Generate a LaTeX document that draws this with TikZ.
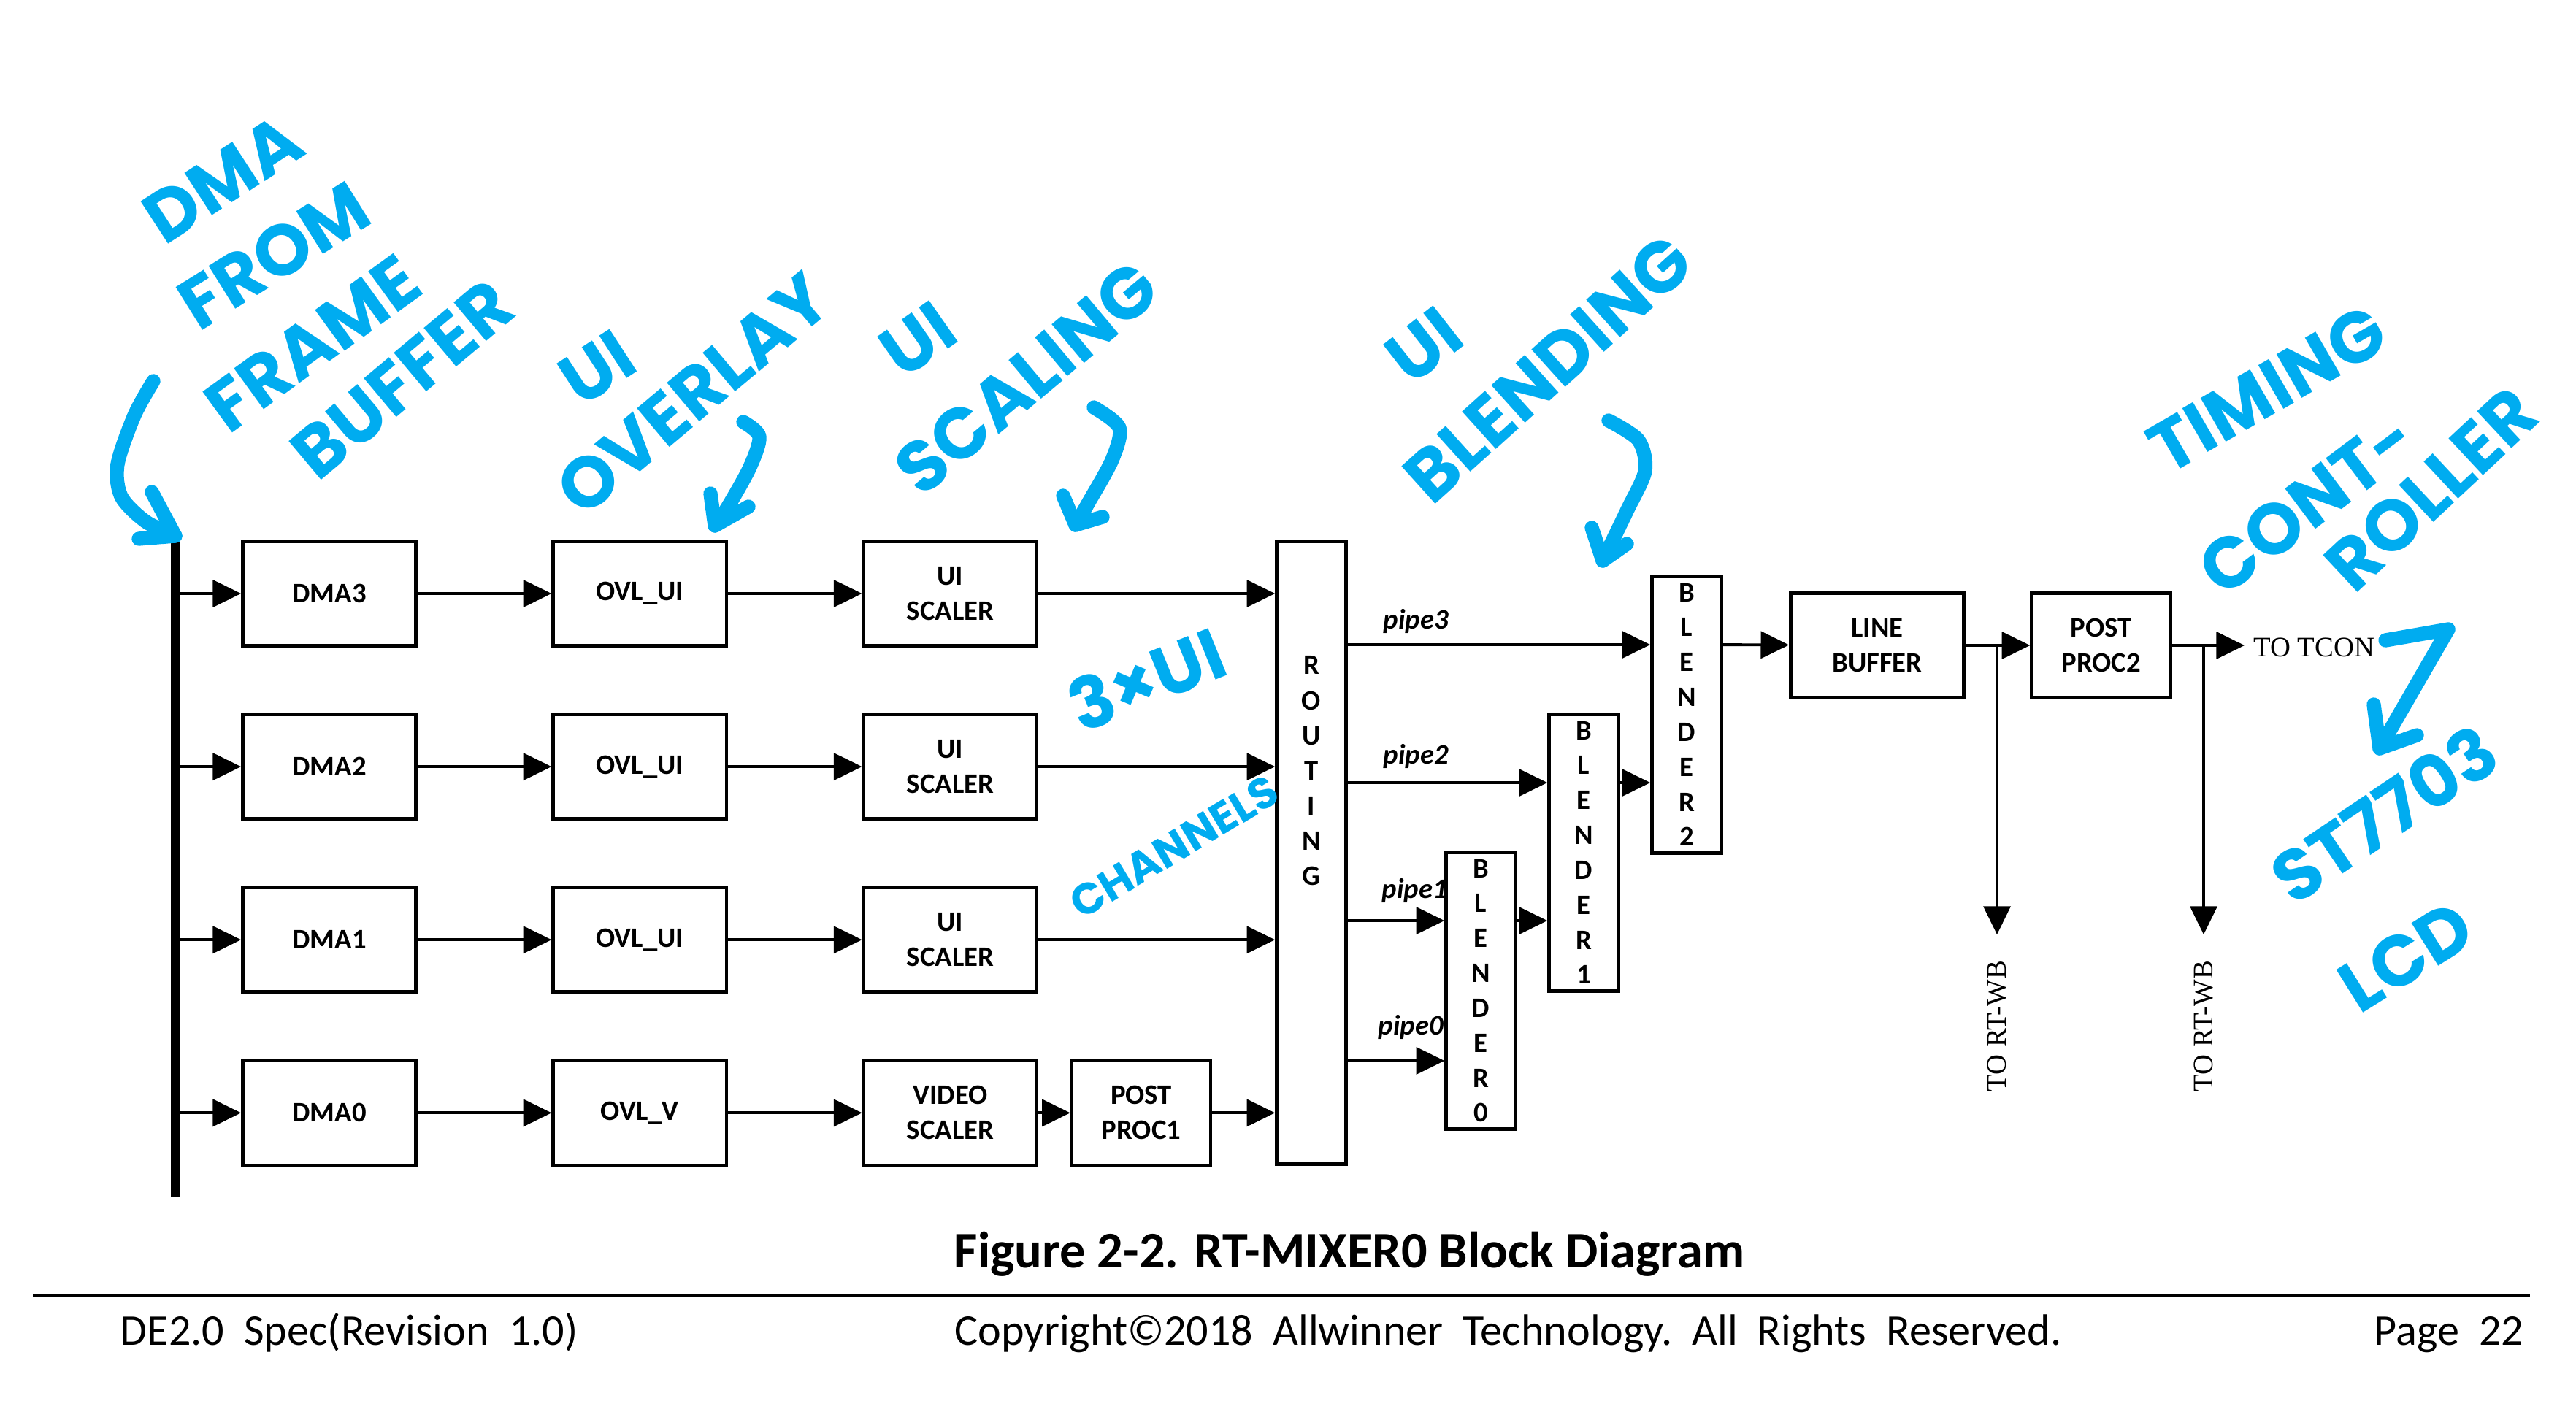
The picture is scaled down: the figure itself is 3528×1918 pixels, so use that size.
\documentclass[tikz,border=0pt]{standalone}
\usepackage{fontspec}
\setmainfont{Carlito}
\newfontfamily\handfont{Poppins}
\newfontfamily\serifont{Liberation Serif}
\usepackage{tikz}
\usetikzlibrary{arrows.meta, positioning, calc}
\definecolor{penblue}{RGB}{0, 172, 240}

\begin{document}
\begin{tikzpicture}[x=0.01cm, y=-0.01cm, node distance=0.894cm and 1.834cm]
    % Styles
    \tikzstyle{block} = [rectangle, draw, line width=1.3pt, minimum width=2.37cm,
        minimum height=1.43cm, align=center, inner sep=0pt,
        font=\fontsize{11}{13.7}\selectfont\bfseries]
    \tikzstyle{smallblock} = [block, minimum width=1.9cm]
    \tikzstyle{tallblock} = [rectangle, draw, line width=1.3pt, minimum width=0.95cm,
        minimum height=3.79cm, align=center, inner sep=0pt,
        font=\fontsize{11}{13.6}\selectfont\bfseries]
    \tikzstyle{vtext} = [align=center, inner sep=0pt, font=\fontsize{11}{13.7}\selectfont\bfseries]
    \tikzstyle{arrow} = [line width=1.1pt, -{Triangle[length=11pt, width=10.5pt]}]
    \tikzstyle{pipelabel} = [inner sep=0pt, font=\fontsize{11}{13}\selectfont\bfseries\itshape]
    \tikzstyle{outlabel} = [font=\serifont\fontsize{11}{13}\selectfont]
    \tikzstyle{footer} = [inner sep=0pt, font=\fontsize{17.1}{20}\selectfont]
    \tikzstyle{handtext} = [penblue, inner sep=0pt, font=\handfont\bfseries\fontsize{28}{30}\selectfont]
    \tikzstyle{penline} = [penblue, line width=5.5pt, line cap=round, line join=round]

    \fill[white] (0,0) rectangle (3528,1918);
    \useasboundingbox (0,0) rectangle (3528,1918);

    % Input rows
    \node[block] (dma3) at (451,813) {DMA3};
    \node[block, below=of dma3] (dma2) {DMA2};
    \node[block, below=of dma2] (dma1) {DMA1};
    \node[block, below=of dma1] (dma0) {DMA0};
    \node[block, right=of dma3] (ovl3) {OVL\_UI};
    \node[block, right=of dma2] (ovl2) {OVL\_UI};
    \node[block, right=of dma1] (ovl1) {OVL\_UI};
    \node[block, right=of dma0] (ovl0) {OVL\_V};
    \node[block, right=of ovl3] (scl3) {UI\\SCALER};
    \node[block, right=of ovl2] (scl2) {UI\\SCALER};
    \node[block, right=of ovl1] (scl1) {UI\\SCALER};
    \node[block, right=of ovl0] (scl0) {VIDEO\\SCALER};
    \node[smallblock, right=0.434cm of scl0] (pp1) {POST\\PROC1};

    % Routing and blenders
    \node[tallblock, minimum height=8.52cm] (rout) at (1796,1168) {};
    \node[vtext] (routtxt) at (1796,1056) {R\\O\\U\\T\\I\\N\\G};
    \node[tallblock] (bl0) at (2028,1357) {B\\L\\E\\N\\D\\E\\R\\0};
    \node[tallblock] (bl1) at (2169,1168) {B\\L\\E\\N\\D\\E\\R\\1};
    \node[tallblock] (bl2) at (2310,979) {B\\L\\E\\N\\D\\E\\R\\2};

    % Output chain
    \node[block] (lbuf) at (2571,884) {LINE\\BUFFER};
    \node[smallblock, right=0.884cm of lbuf] (pp2) {POST\\PROC2};
    \node[outlabel, anchor=west] (tcon) at (3074,887) {TO TCON};
    \node[outlabel, rotate=90, anchor=east, inner xsep=10pt] (wb1) at (2735,1280) {TO RT-WB};
    \node[outlabel, rotate=90, anchor=east, inner xsep=10pt] (wb2) at (3018,1280) {TO RT-WB};

    % Bus
    \coordinate (bustop) at (240,742);
    \coordinate (busbot) at (240,1640);
    \draw[line width=3.2pt] (bustop) -- (busbot);

    % Row arrows
    \foreach \r in {0,...,3} {
        \draw[arrow] (bustop |- dma\r) -- (dma\r);
        \draw[arrow] (dma\r) -- (ovl\r);
        \draw[arrow] (ovl\r) -- (scl\r);
    }
    \foreach \r in {1,2,3}
        \draw[arrow] (scl\r) -- (scl\r -| rout.west);
    \draw[arrow] (scl0) -- (pp1);
    \draw[arrow] (pp1) -- (pp1 -| rout.west);

    % Pipes
    \coordinate (p3) at ($(bl2.north west)!.25!(bl2.south west)$);
    \coordinate (p2) at ($(bl1.north west)!.25!(bl1.south west)$);
    \coordinate (p1) at ($(bl0.north west)!.25!(bl0.south west)$);
    \coordinate (p0) at ($(bl0.north west)!.75!(bl0.south west)$);
    \draw[arrow] (p3 -| rout.east) -- node[pipelabel, pos=0, anchor=base west, xshift=0.47cm, yshift=6pt] {pipe3} (p3);
    \draw[arrow] (p2 -| rout.east) -- node[pipelabel, pos=0, anchor=base west, xshift=0.47cm, yshift=7.4pt] {pipe2} (p2);
    \draw[arrow] (p1 -| rout.east) -- node[pipelabel, pos=0, anchor=base west, xshift=0.45cm, yshift=8.8pt] {pipe1} (p1);
    \draw[arrow] (p0 -| rout.east) -- node[pipelabel, pos=0, anchor=base west, xshift=0.40cm, yshift=10pt] {pipe0} (p0);
    \draw[arrow] (p1 -| bl0.east) -- (p1 -| bl1.west);
    \draw[arrow] (p2 -| bl1.east) -- (p2 -| bl2.west);
    \draw[arrow] (p3 -| bl2.east) -- (lbuf);
    \draw[arrow] (lbuf) -- (pp2);
    \draw[arrow] (pp2) -- (pp2 -| tcon.west);
    \draw[arrow] (lbuf.east -| wb1) -- (wb1.east);
    \draw[arrow] (pp2.east -| wb2) -- (wb2.east);

    % Caption and footer
    \node[anchor=base, inner sep=0pt, font=\fontsize{20}{24}\selectfont\bfseries] (caption) at (1848,1736)
        {Figure 2-2. RT-MIXER0 Block Diagram};
    \draw[line width=1.2pt] (45,1775) -- (3465,1775);
    \node[footer, anchor=base west] (spec) at (164,1842) {DE2.0\ \ Spec(Revision\ \ 1.0)};
    \node[footer, anchor=base west] (copy) at (1307,1842)
        {Copyright©2018\ \ Allwinner\ \ Technology.\ \ All\ \ Rights\ \ Reserved.};
    \node[footer, anchor=base east] (page) at (3457,1842) {Page\ \ 22};

    % Handwritten notes
    \node[handtext, rotate=33] (hdma) at (305,245) {DMA};
    \node[handtext, rotate=32] (hfrom) at (375,350) {FROM};
    \node[handtext, rotate=36] (hframe) at (428,470) {FRAME};
    \node[handtext, rotate=40] (hbuffer) at (551,520) {BUFFER};
    \node[handtext, rotate=33] (hui1) at (818,504) {UI};
    \node[handtext, rotate=40] (hovl) at (949,540) {OVERLAY};
    \node[handtext, rotate=35] (hui2) at (1257,465) {UI};
    \node[handtext, rotate=40] (hscal) at (1406,518) {SCALING};
    \node[handtext, rotate=38] (hui3) at (1950,473) {UI};
    \node[handtext, rotate=42] (hblend) at (2120,505) {BLENDING};
    \node[handtext, rotate=22] (h3ui) at (1570,930) {3×UI};
    \node[handtext, rotate=31, font=\handfont\bfseries\fontsize{17}{19}\selectfont] (hchan) at (1608,1160) {CHANNELS};
    \node[handtext, rotate=30] (htiming) at (3105,533) {TIMING};
    \node[handtext, rotate=37] (hcont) at (3160,690) {CONT-};
    \node[handtext, rotate=43] (hroller) at (3330,670) {ROLLER};
    \node[handtext, rotate=34] (hst) at (3265,1115) {ST7703};
    \node[handtext, rotate=32] (hlcd) at (3295,1310) {LCD};

    % Handwritten arrows
    \draw[penline] plot[smooth] coordinates {(210,522) (184,569) (161,636) (166,680) (199,714) (240,734)};
    \draw[penline] (208,674) -- (240,734) -- (190,738);
    \draw[penline] plot[smooth] coordinates {(1018,578) (1040,598) (1027,640) (997,694) (979,720)};
    \draw[penline] (973,676) -- (979,720) -- (1025,694);
    \draw[penline] plot[smooth] coordinates {(1498,558) (1533,586) (1523,630) (1491,688) (1473,719)};
    \draw[penline] (1456,679) -- (1473,719) -- (1510,708);
    \draw[penline] plot[smooth] coordinates {(2203,576) (2244,603) (2253,645) (2228,700) (2195,768)};
    \draw[penline] (2180,723) -- (2195,768) -- (2228,745);
    \draw[penline] (3267,877) -- (3353,862) -- (3259,1025);
    \draw[penline] (3251,965) -- (3259,1025) -- (3310,1007);
\end{tikzpicture}
\end{document}
